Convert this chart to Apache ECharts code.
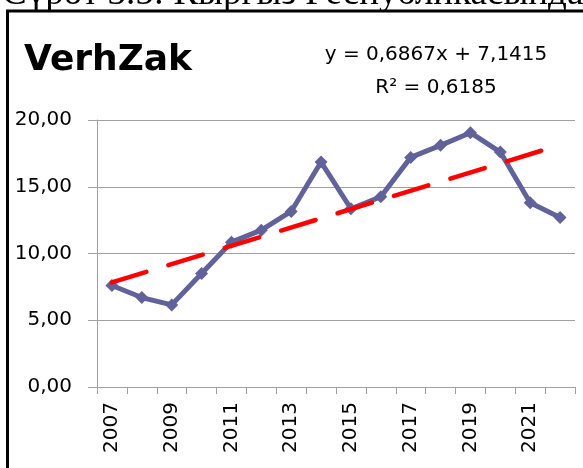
<!DOCTYPE html>
<html>
<head>
<meta charset="utf-8">
<script src="https://cdn.jsdelivr.net/npm/echarts@6.0.0/dist/echarts.min.js"></script>
<style>
  html, body { margin: 0; padding: 0; background: #fff; }
  #chart { width: 583px; height: 468px; }
</style>
</head>
<body>
<div id="chart"></div>
<script>
// years on the category axis
const years = ['2007', '2008', '2009', '2010', '2011', '2012', '2013', '2014',
  '2015', '2016', '2017', '2018', '2019', '2020', '2021', '2022'];
// VerhZak values
const values = [7.6, 6.7, 6.15, 8.5, 10.85, 11.75, 13.15, 16.85,
  13.35, 14.25, 17.2, 18.1, 19.05, 17.6, 13.8, 12.7];
// linear trend end points (first and last year)
const trendPoints = [[0, 7.83], [15, 18.13]];
const yTicks = { min: 0, max: 20, interval: 5 };

const heading = 'Сүрөт 3.5: Кыргыз Республикасындагы';
const title = 'VerhZak';
const equation = 'y = 0,6867x + 7,1415';
const rSquared = 'R² = 0,6185';

const chart = echarts.init(document.getElementById('chart'));

const fmt = v => v.toFixed(2).replace('.', ',');

chart.setOption({
  animation: false,
  backgroundColor: '#fff',
  grid: { left: 97, right: 8, top: 120, bottom: 81 },
  xAxis: {
    type: 'category',
    data: years,
    boundaryGap: true,
    axisLine: { show: true, lineStyle: { color: '#a0a0a0', width: 1 } },
    axisTick: { show: true, interval: 0, length: 7, lineStyle: { color: '#a0a0a0' } },
    axisLabel: {
      interval: 1,
      rotate: 90,
      margin: 15,
      fontFamily: 'DejaVu Sans',
      fontSize: 20,
      color: '#000'
    },
    splitLine: { show: false }
  },
  yAxis: {
    type: 'value',
    min: yTicks.min,
    max: yTicks.max,
    interval: yTicks.interval,
    axisLine: { show: true, lineStyle: { color: '#a0a0a0', width: 1 } },
    axisTick: { show: true, length: 9, lineStyle: { color: '#a0a0a0' } },
    axisLabel: {
      formatter: fmt,
      margin: 25,
      fontFamily: 'DejaVu Sans',
      fontSize: 20,
      color: '#000'
    },
    splitLine: { show: true, lineStyle: { color: '#a0a0a0', width: 1 } }
  },
  series: [
    {
      name: title,
      type: 'line',
      data: values,
      symbol: 'diamond',
      symbolSize: 13,
      lineStyle: { color: '#62629a', width: 5 },
      itemStyle: { color: '#62629a' },
      z: 2
    },
    {
      name: 'trend',
      type: 'line',
      data: trendPoints,
      symbol: 'none',
      lineStyle: { color: '#ff0000', width: 4.5, type: [36, 23], cap: 'round' },
      z: 3
    }
  ],
  graphic: [
    {
      type: 'rect',
      shape: { x: 7.5, y: 11, width: 700, height: 600 },
      style: { fill: 'none', stroke: '#000', lineWidth: 3 },
      silent: true
    },
    {
      type: 'text',
      x: 2, y: -6,
      style: {
        text: heading,
        font: '37px "Liberation Serif"',
        fill: '#000',
        verticalAlign: 'middle'
      }
    },
    {
      type: 'text',
      x: 24, y: 61,
      style: {
        text: title,
        font: 'bold 36px "DejaVu Sans"',
        fill: '#000',
        verticalAlign: 'middle'
      }
    },
    {
      type: 'text',
      x: 436, y: 55,
      style: {
        text: equation,
        font: '20px "DejaVu Sans"',
        fill: '#000',
        align: 'center',
        verticalAlign: 'middle'
      }
    },
    {
      type: 'text',
      x: 436, y: 88,
      style: {
        text: rSquared,
        font: '20px "DejaVu Sans"',
        fill: '#000',
        align: 'center',
        verticalAlign: 'middle'
      }
    }
  ]
});
</script>
</body>
</html>
